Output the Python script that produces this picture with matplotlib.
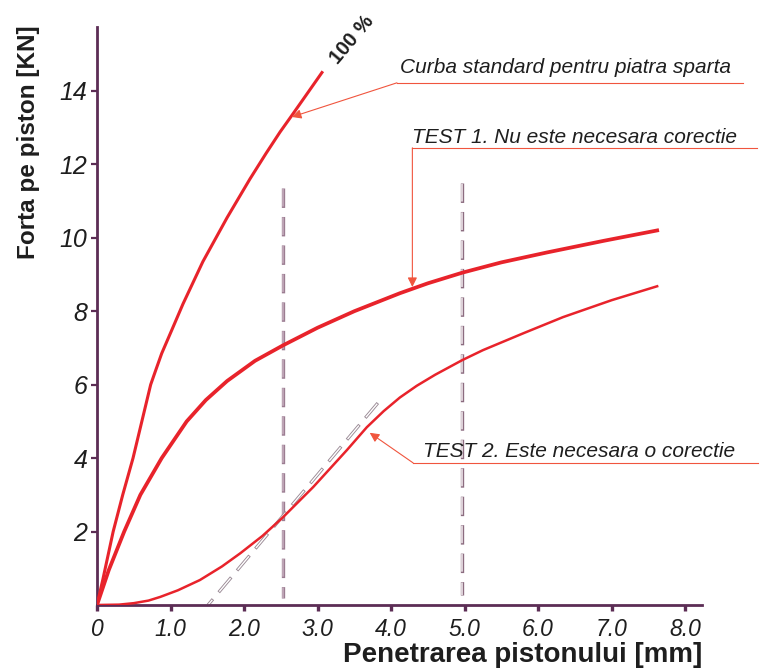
import matplotlib
matplotlib.use("Agg")
import matplotlib.pyplot as plt

plt.rcParams['font.family'] = ['Liberation Sans', 'DejaVu Sans']
plt.rcParams['lines.scale_dashes'] = False

# standard curve for crushed stone (100 %)
std_x = [0, 0.08, 0.22, 0.35, 0.49, 0.61, 0.73, 0.80, 0.88, 1.02, 1.17, 1.44, 1.77, 2.08, 2.3, 2.49, 2.65, 2.85, 3.06]
std_y = [0, 0.7, 2.0, 3.0, 4.0, 5.0, 6.0, 6.4, 6.85, 7.5, 8.2, 9.35, 10.55, 11.6, 12.3, 12.88, 13.33, 13.9, 14.5]

# TEST 1
t1_x = [0, 0.16, 0.37, 0.59, 0.88, 1.22, 1.48, 1.77, 2.15, 2.53, 3.0, 3.5, 4.12, 4.5, 4.97, 5.5, 6.12, 6.9, 7.62]
t1_y = [0, 0.95, 2.0, 3.0, 4.0, 5.0, 5.58, 6.1, 6.65, 7.07, 7.55, 8.0, 8.49, 8.76, 9.05, 9.33, 9.6, 9.92, 10.2]

# TEST 2
t2_x = [0, 0.3, 0.5, 0.7, 0.86, 1.1, 1.4, 1.7, 1.95, 2.25, 2.52, 2.94, 3.4, 3.67, 3.9, 4.12,
        4.35, 4.6, 4.97, 5.25, 5.8, 6.34, 7.0, 7.62]
t2_y = [0, 0.01, 0.05, 0.12, 0.22, 0.4, 0.68, 1.05, 1.41, 1.88, 2.37, 3.21, 4.22, 4.84, 5.28, 5.65,
        5.97, 6.27, 6.67, 6.94, 7.4, 7.84, 8.3, 8.68]

# correction tangent and the 2.5 / 5.0 mm reading lines
tangent_x = [3.82, 1.51]
tangent_y = [5.5, 0.0]
read_25 = (2.53, 0.2, 11.35)
read_50 = (4.97, 0.27, 11.5)

xticks = [0, 1, 2, 3, 4, 5, 6, 7, 8]
xtick_labels = ['0', '1.0', '2.0', '3.0', '4.0', '5.0', '6.0', '7.0', '8.0']
yticks = [2, 4, 6, 8, 10, 12, 14]

RED = '#e8232b'
LEAD = '#f0553e'
AXIS = '#5c2d55'
TXT = '#1e1e1e'


def outlined_dash(ax, xs, ys, edge, face, lw_out=2.4, lw_in=1.1, on=14.0, off=6.5):
    t = (lw_out - lw_in) / 2.0
    ax.plot(xs, ys, color=edge, lw=lw_out, ls=(0, (on, off)),
            dash_capstyle='butt', zorder=2)
    ax.plot(xs, ys, color=face, lw=lw_in, ls=(on + off - t, (on - 2 * t, off + 2 * t)),
            dash_capstyle='butt', zorder=2)


fig = plt.figure(figsize=(7.6, 6.68), dpi=100)
ax = fig.add_axes([97 / 760, 1 - 605 / 668, (702 - 97) / 760, (605 - 27) / 668])
ax.set_xlim(0, 8.23)
ax.set_ylim(0, 15.74)

for s in ['top', 'right']:
    ax.spines[s].set_visible(False)
for s in ['left', 'bottom']:
    ax.spines[s].set_color(AXIS)
    ax.spines[s].set_linewidth(2.0)

ax.set_xticks(xticks)
ax.set_xticklabels(xtick_labels, fontsize=16.5, style='italic', color=TXT)
ax.set_yticks(yticks)
ax.set_yticklabels([str(v) for v in yticks], fontsize=18, style='italic', color=TXT)
ax.tick_params(axis='x', direction='out', length=4, width=2.4, color=AXIS, pad=5)
ax.tick_params(axis='y', direction='out', length=4, width=1.6, color=AXIS, pad=3)

# dashed helper lines
outlined_dash(ax, [read_25[0]] * 2, [read_25[2], read_25[1]], '#9c7d92', '#c8b0c0')
outlined_dash(ax, [read_50[0]] * 2, [read_50[2], read_50[1]], '#8c6c80', '#f6f0f4')
outlined_dash(ax, tangent_x, tangent_y, '#9a8a95', '#ffffff', lw_out=2.3, lw_in=1.0)

# curves
ax.plot(std_x, std_y, color=RED, lw=2.2, zorder=3, solid_joinstyle='round')
ax.plot(t1_x, t1_y, color=RED, lw=2.7, zorder=3, solid_joinstyle='round')
ax.plot(t2_x, t2_y, color=RED, lw=1.8, zorder=3, solid_joinstyle='round')

ax.text(3.47, 15.39, '100 %', rotation=50, fontsize=14.5, fontweight='bold',
        color=TXT, ha='center', va='center')

arrow = dict(arrowstyle='-|>', color=LEAD, lw=0.8, mutation_scale=14,
             shrinkA=0, shrinkB=0)

# annotation 1
ax.text(4.12, 14.49, 'Curba standard pentru piatra sparta', fontsize=15,
        style='italic', color=TXT, ha='left', va='baseline', clip_on=False)
ax.plot([4.08, 8.79], [14.22, 14.22], color=LEAD, lw=0.8, clip_on=False)
ax.annotate('', xy=(2.65, 13.29), xytext=(4.08, 14.22), arrowprops=arrow,
            annotation_clip=False)

# annotation 2
ax.text(4.29, 12.59, 'TEST 1. Nu este necesara corectie', fontsize=15,
        style='italic', color=TXT, ha='left', va='baseline', clip_on=False)
ax.plot([4.29, 8.98], [12.45, 12.45], color=LEAD, lw=0.8, clip_on=False)
ax.annotate('', xy=(4.29, 8.66), xytext=(4.29, 12.45), arrowprops=arrow,
            annotation_clip=False)

# annotation 3
ax.text(4.44, 4.03, 'TEST 2. Este necesara o corectie', fontsize=15,
        style='italic', color=TXT, ha='left', va='baseline', clip_on=False)
ax.plot([4.30, 8.99], [3.87, 3.87], color=LEAD, lw=0.8, clip_on=False)
ax.annotate('', xy=(3.71, 4.69), xytext=(4.30, 3.87), arrowprops=arrow,
            annotation_clip=False)

fig.text(523 / 760, 6 / 668, 'Penetrarea pistonului [mm]', fontsize=20,
         fontweight='bold', color=TXT, ha='center', va='baseline')
fig.text(29 / 760, 1 - 142 / 668, 'Forta pe piston [KN]', fontsize=17.5,
         fontweight='bold', color=TXT, rotation=90, ha='center', va='center')

fig.savefig('out.png', dpi=100, facecolor='white')
